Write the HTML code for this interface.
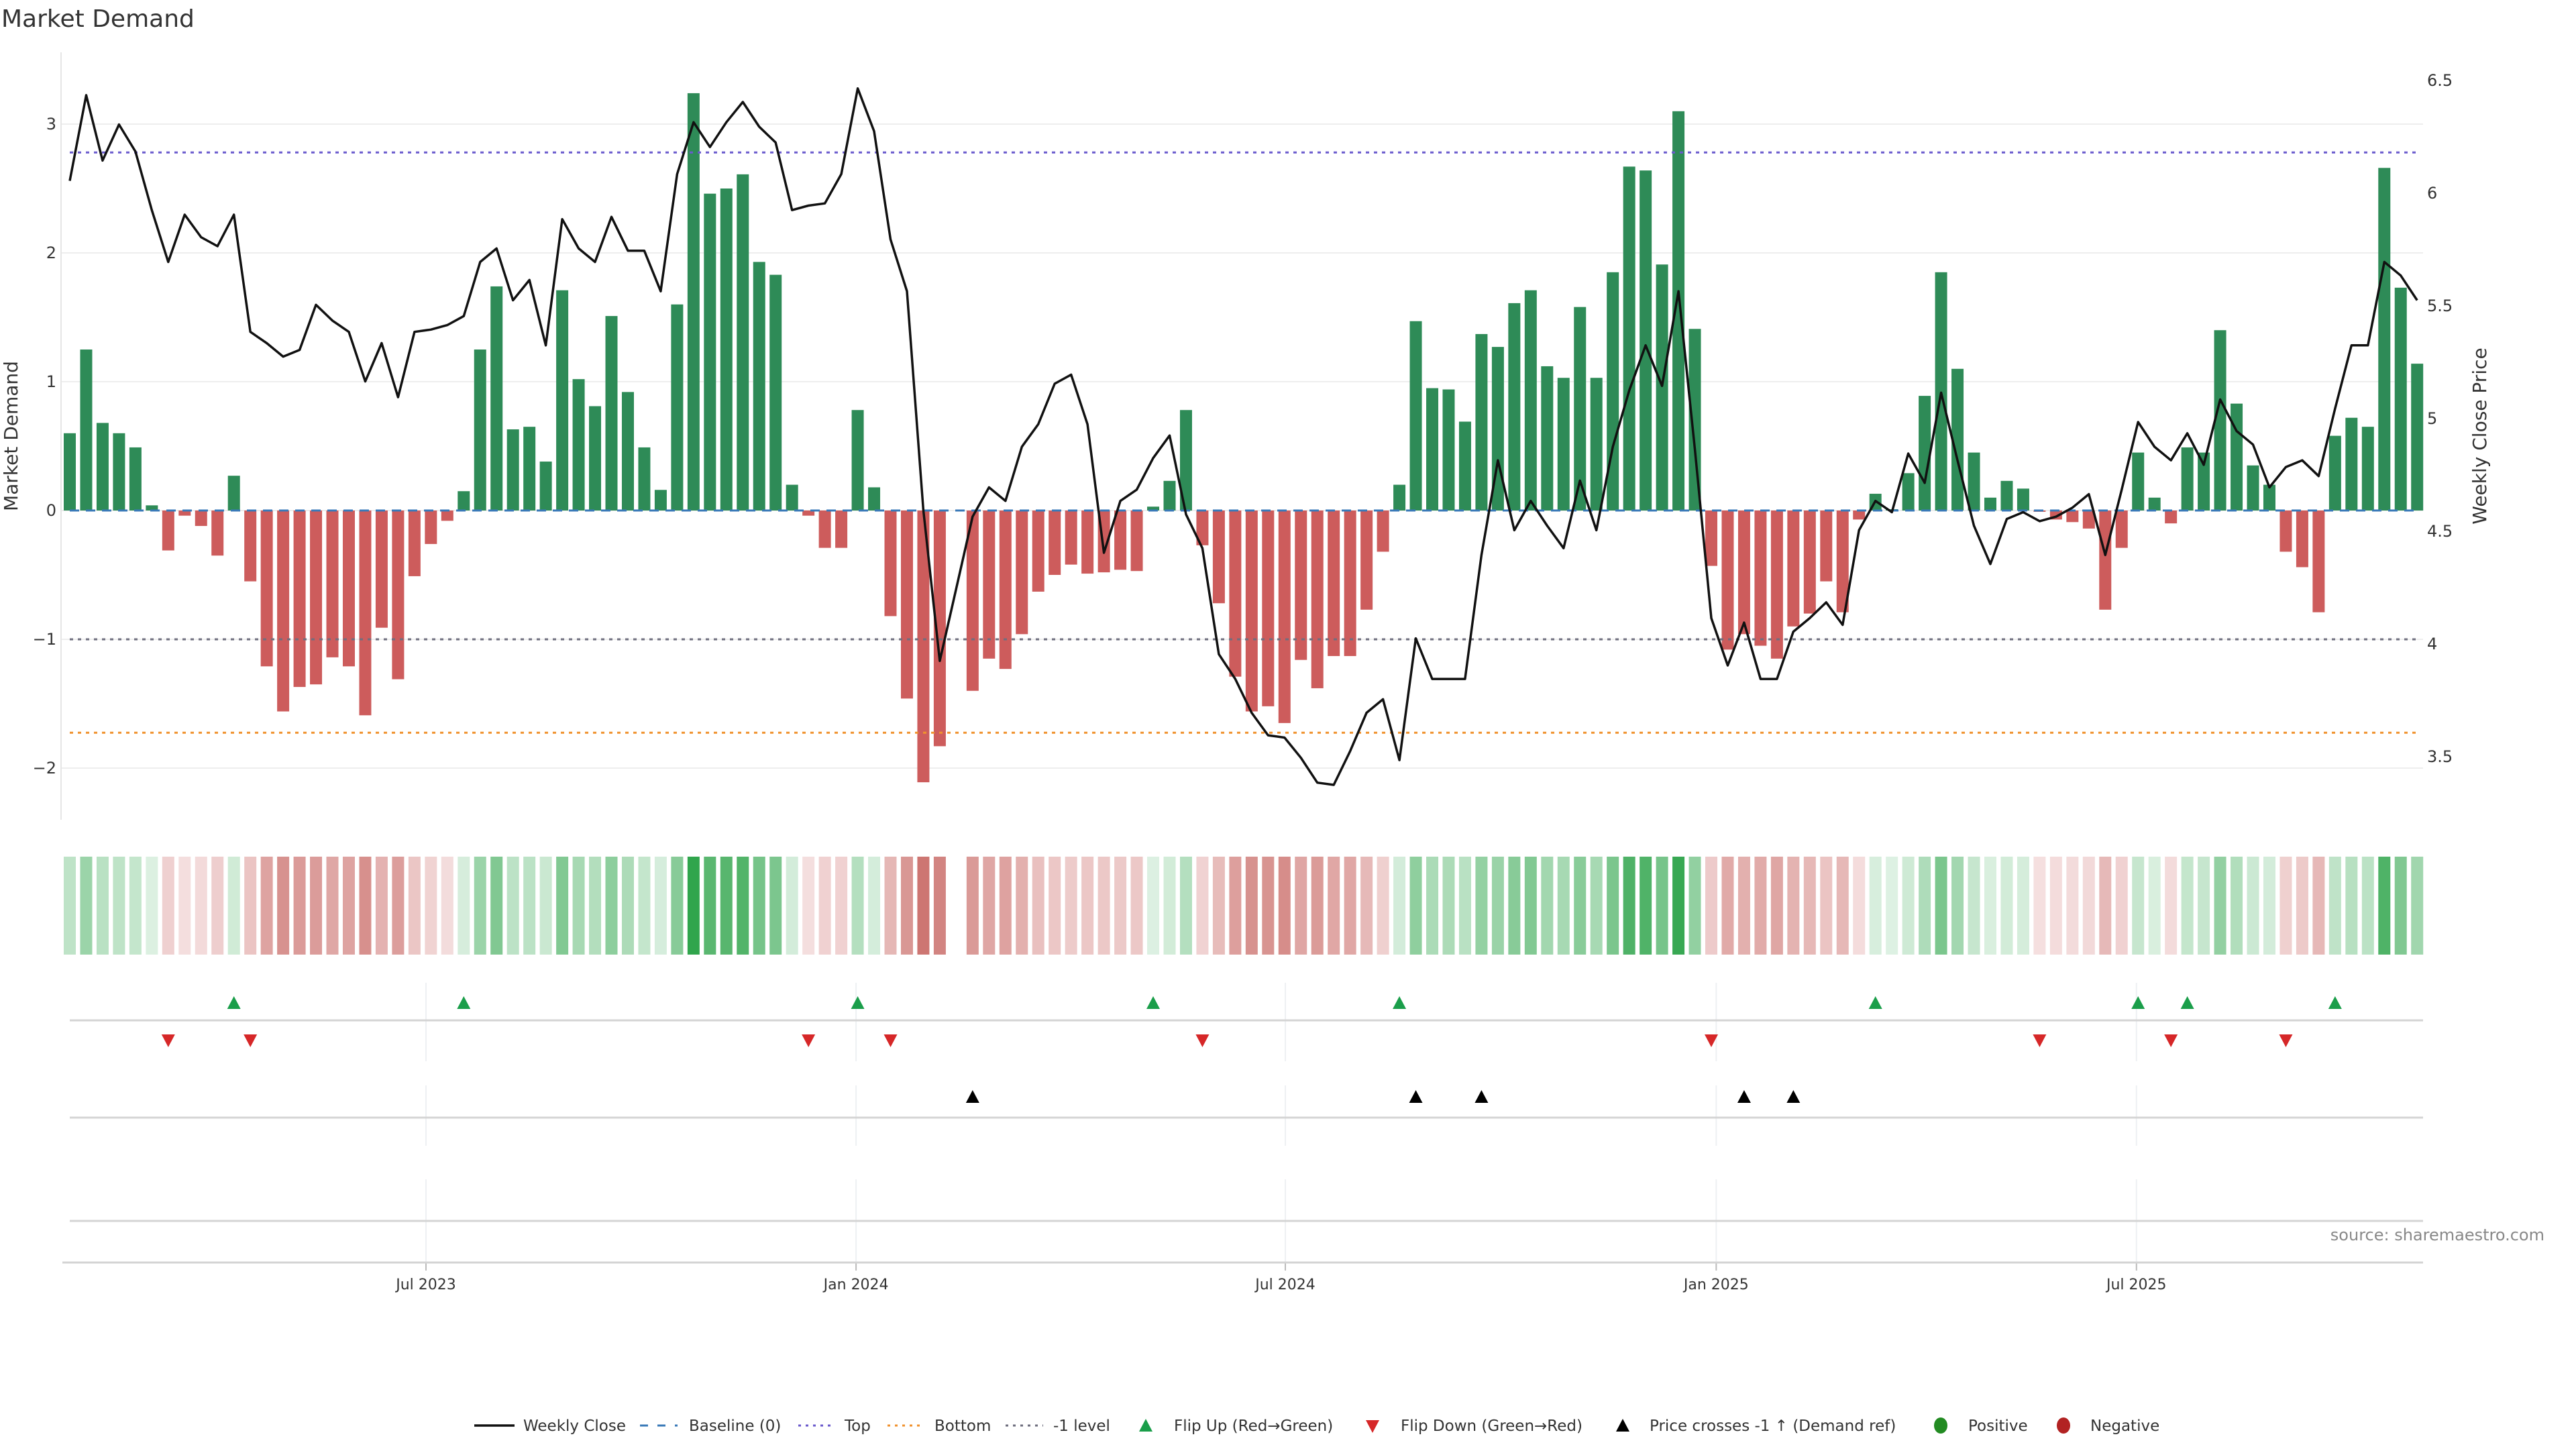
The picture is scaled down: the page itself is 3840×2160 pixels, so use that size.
<!DOCTYPE html>
<html><head><meta charset="utf-8"><style>
html,body{margin:0;padding:0;background:#fff;}
svg{display:block;font-family:"DejaVu Sans","Liberation Sans",sans-serif;}
</style></head><body>
<svg id="chart" xmlns="http://www.w3.org/2000/svg" width="3840" height="2160" viewBox="0 0 3840 2160">
<rect x="0" y="0" width="3840" height="2160" fill="#fff"/>
<text x="2" y="40" font-size="36" fill="#333">Market Demand</text>
<text transform="translate(26,650) rotate(-90)" text-anchor="middle" font-size="28" fill="#333">Market Demand</text>
<text transform="translate(3706,650) rotate(-90)" text-anchor="middle" font-size="28" fill="#333">Weekly Close Price</text>
<text x="3793" y="1849" text-anchor="end" font-size="24" fill="#888">source: sharemaestro.com</text>
<g id="grid"></g><g id="bars"></g><g id="levels"></g><g id="price"></g><g id="heat"></g><g id="lower"></g><g id="axes"></g><g id="legend"></g>
</svg>
<script>
const demand = [0.60,1.25,0.68,0.60,0.49,0.04,-0.31,-0.04,-0.12,-0.35,0.27,-0.55,-1.21,-1.56,-1.37,-1.35,-1.14,-1.21,-1.59,-0.91,-1.31,-0.51,-0.26,-0.08,0.15,1.25,1.74,0.63,0.65,0.38,1.71,1.02,0.81,1.51,0.92,0.49,0.16,1.60,3.24,2.46,2.50,2.61,1.93,1.83,0.20,-0.04,-0.29,-0.29,0.78,0.18,
-0.82,-1.46,-2.11,-1.83,null,-1.40,-1.15,-1.23,-0.96,-0.63,-0.50,-0.42,-0.49,-0.48,-0.46,-0.47,0.03,0.23,0.78,-0.27,-0.72,-1.29,-1.56,-1.52,-1.65,-1.16,-1.38,-1.13,-1.13,-0.77,-0.32,0.20,1.47,0.95,0.94,0.69,1.37,1.27,1.61,1.71,1.12,1.03,1.58,1.03,1.85,2.67,2.64,1.91,3.10,1.41,
-0.43,-1.08,-0.96,-1.05,-1.15,-0.90,-0.80,-0.55,-0.79,-0.07,0.13,0.01,0.29,0.89,1.85,1.10,0.45,0.10,0.23,0.17,-0.01,-0.07,-0.09,-0.14,-0.77,-0.29,0.45,0.10,-0.10,0.49,0.45,1.40,0.83,0.35,0.20,-0.32,-0.44,-0.79,0.58,0.72,0.65,2.66,1.73,1.14];
const closePrice = [6.04,6.42,6.13,6.29,6.17,5.91,5.68,5.89,5.79,5.75,5.89,5.37,5.32,5.26,5.29,5.49,5.42,5.37,5.15,5.32,5.08,5.37,5.38,5.40,5.44,5.68,5.74,5.51,5.60,5.31,5.87,5.74,5.68,5.88,5.73,5.73,5.55,6.07,6.30,6.19,6.30,6.39,6.28,6.21,5.91,5.93,5.94,6.07,6.45,6.26,
5.78,5.55,4.58,3.91,null,4.55,4.68,4.62,4.86,4.96,5.14,5.18,4.96,4.39,4.62,4.67,4.81,4.91,4.56,4.41,3.94,3.83,3.68,3.58,3.57,3.48,3.37,3.36,3.51,3.68,3.74,3.47,4.01,3.83,3.83,3.83,4.38,4.80,4.49,4.62,4.51,4.41,4.71,4.49,4.86,5.11,5.31,5.13,5.55,4.85,
4.10,3.89,4.08,3.83,3.83,4.04,4.10,4.17,4.07,4.49,4.62,4.57,4.83,4.70,5.10,4.80,4.51,4.34,4.54,4.57,4.53,4.55,4.59,4.65,4.38,4.67,4.97,4.86,4.80,4.92,4.78,5.07,4.93,4.87,4.68,4.77,4.80,4.73,5.03,5.31,5.31,5.68,5.62,5.51];
const demandTicks = [3,2,1,0,-1,-2];
const priceTicks = [6.5,6,5.5,5,4.5,4,3.5];
const dateTickPos = [21.7,47.9,74.05,100.3,125.9];
const dateTickLabels = ["Jul 2023","Jan 2024","Jul 2024","Jan 2025","Jul 2025"];
const levelValues = [2.78,-1.725,-1];
const priceRef = 4;

const NS="http://www.w3.org/2000/svg";
function mk(tag,attrs,parent,txt){const e=document.createElementNS(NS,tag);for(const k in attrs)e.setAttribute(k,attrs[k]);if(txt!==undefined)e.textContent=txt;parent.appendChild(e);return e;}
const X0=104, DX=24.47, PL=91, PR=3612;
const xs=i=>X0+DX*i;
const yD=v=>761-v*192;
const yP=p=>787-(p-4.5)*336;
const G=id=>document.getElementById(id);

demandTicks.forEach(t=>{
  const l=mk('line',{x1:PL,x2:PR,y1:yD(t),y2:yD(t),stroke:'#eeeeee','stroke-width':2},G('grid'));
  
  
  const tx=mk('text',{x:84,y:yD(t)+8,'text-anchor':'end','font-size':24,fill:'#333'},G('axes'),t<0?'\u2212'+Math.abs(t):String(t));
  
  
});
priceTicks.forEach(t=>{
  const tx=mk('text',{x:3618,y:yP(t)+13,'font-size':24,fill:'#333'},G('axes'),String(t));
  
  
});
mk('line',{x1:PL,x2:PL,y1:78,y2:1222,stroke:'#e6e6e6','stroke-width':2},G('grid'));

demand.forEach((v,i)=>{
  if(v===null)return;
  const y=Math.min(yD(0),yD(v)),h=Math.max(Math.abs(yD(v)-yD(0)),1);
  const r=mk('rect',{x:xs(i)-9,y:y,width:18,height:h,fill:v>=0?'#2e8b57':'#cd5c5c'},G('bars'));
  
  
});
const lv=G('levels');
let b=mk('line',{x1:xs(0),x2:PR-10,y1:yD(0),y2:yD(0),stroke:'#3a7ab8','stroke-width':3,'stroke-dasharray':'14,10'},lv);


const lvCols=['#6a5acd','#f0922e','#6e6e7e'];
const lvNames=['top-level-line','bottom-level-line','minus-one-level-line'];
levelValues.forEach((v,k)=>{
  const l=mk('line',{x1:xs(0),x2:PR-10,y1:yD(v),y2:yD(v),stroke:lvCols[k],'stroke-width':3,'stroke-dasharray':'5,7'},lv);
  
  
});
let d='';closePrice.forEach((p,i)=>{if(p===null)return;d+=(d?'L':'M')+xs(i).toFixed(1)+','+yP(p).toFixed(1);});
const pl=mk('path',{d:d,fill:'none',stroke:'#111','stroke-width':3.5,'stroke-linejoin':'round'},G('price'));



function lerp(a,b,t){return a.map((c,k)=>Math.round(c+(b[k]-c)*t));}
demand.forEach((v,i)=>{
  if(v===null)return;
  let c;
  if(v>=0)c=lerp([222,241,227],[48,165,76],Math.min(v/3.24,1));
  else c=lerp([245,224,224],[205,118,114],Math.min(-v/2.11,1));
  const r=mk('rect',{x:xs(i)-9,y:1277,width:18,height:146,fill:'rgb('+c.join(',')+')'},G('heat'));
  
  
});

const lw=G('lower');
dateTickPos.forEach((p,k)=>{
  [[1465,1582],[1618,1708],[1758,1882]].forEach(s=>mk('line',{x1:xs(p),x2:xs(p),y1:s[0],y2:s[1],stroke:'#eef0f3','stroke-width':2},lw));
  mk('line',{x1:xs(p),x2:xs(p),y1:1882,y2:1894,stroke:'#bbb','stroke-width':2},lw);
  const t=mk('text',{x:xs(p),y:1922,'text-anchor':'middle','font-size':22,fill:'#333'},G('axes'),dateTickLabels[k]);
  
  
});
[1521,1666,1820].forEach(y=>mk('line',{x1:104,x2:PR,y1:y,y2:y,stroke:'#d4d4d4','stroke-width':3},lw));
mk('line',{x1:93,x2:PR,y1:1882,y2:1882,stroke:'#d4d4d4','stroke-width':3},lw);

let last=null;
demand.forEach((v,i)=>{
  if(v===null)return;
  const s=v>=0?1:-1;
  if(last!==null&&s!==last){
    const x=xs(i);
    let m;
    if(s>0)m=mk('path',{d:`M${x-10},${1504}L${x+10},${1504}L${x},${1485}Z`,fill:'#1a9e4a'},lw);
    else m=mk('path',{d:`M${x-10},${1542}L${x+10},${1542}L${x},${1561}Z`,fill:'#d62728'},lw);
    
    
  }
  last=s;
});
let lp=null;
closePrice.forEach((p,i)=>{
  if(p===null)return;
  if(lp!==null&&lp<priceRef&&p>=priceRef){
    const x=xs(i);
    const m=mk('path',{d:`M${x-10},${1644}L${x+10},${1644}L${x},${1625}Z`,fill:'#000'},lw);
    
    
  }
  lp=p;
});

const lg=G('legend');const LY=2125;
function lt(x,s){const t=mk('text',{x:x,y:LY+8,'font-size':23,fill:'#333'},lg,s);}
mk('line',{x1:707,x2:767,y1:LY,y2:LY,stroke:'#111','stroke-width':3.5},lg);lt(780,'Weekly Close');
mk('line',{x1:954,x2:1010,y1:LY,y2:LY,stroke:'#3a7ab8','stroke-width':3,'stroke-dasharray':'12,14'},lg);lt(1027,'Baseline (0)');
mk('line',{x1:1190,x2:1244,y1:LY,y2:LY,stroke:'#6a5acd','stroke-width':3,'stroke-dasharray':'4,7'},lg);lt(1259,'Top');
mk('line',{x1:1323,x2:1378,y1:LY,y2:LY,stroke:'#f0922e','stroke-width':3,'stroke-dasharray':'4,7'},lg);lt(1393,'Bottom');
mk('line',{x1:1499,x2:1555,y1:LY,y2:LY,stroke:'#6e6e7e','stroke-width':3,'stroke-dasharray':'4,7'},lg);lt(1570,'-1 level');
mk('path',{d:`M1698,${LY+9}L1718,${LY+9}L1708,${LY-10}Z`,fill:'#1a9e4a'},lg);lt(1750,'Flip Up (Red\u2192Green)');
mk('path',{d:`M2036,${LY-8}L2056,${LY-8}L2046,${LY+11}Z`,fill:'#d62728'},lg);lt(2088,'Flip Down (Green\u2192Red)');
mk('path',{d:`M2409,${LY+9}L2429,${LY+9}L2419,${LY-10}Z`,fill:'#000'},lg);lt(2459,'Price crosses -1 \u2191 (Demand ref)');
mk('ellipse',{cx:2893,cy:LY,rx:10,ry:12,fill:'#228b22'},lg);lt(2934,'Positive');
mk('ellipse',{cx:3076,cy:LY,rx:10,ry:12,fill:'#b22222'},lg);lt(3116,'Negative');
</script>
</body></html>
